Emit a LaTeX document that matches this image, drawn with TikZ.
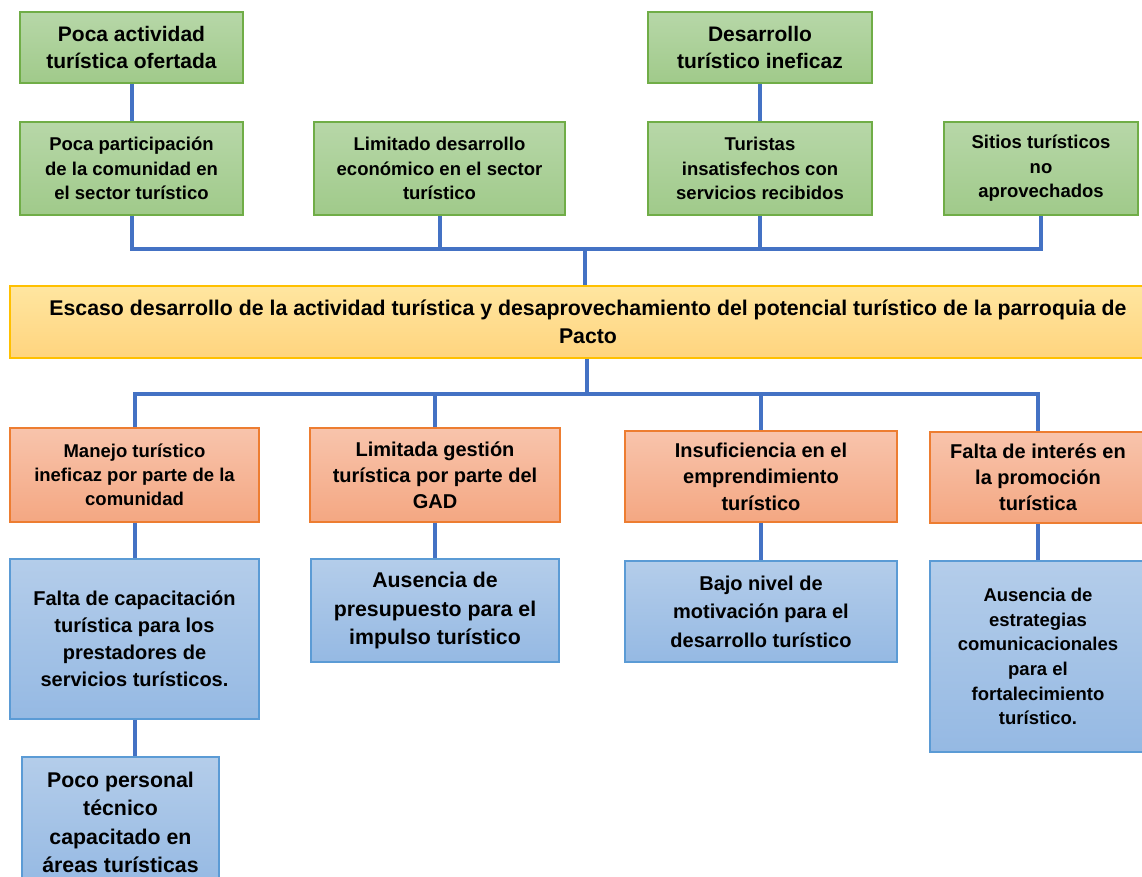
\documentclass[tikz,border=0pt]{standalone}
\usepackage{fontspec}
\setmainfont{Liberation Sans}
\usepackage{tikz}
\usetikzlibrary{positioning}
\usepackage{xcolor}
\definecolor{efborde}{RGB}{112,173,71}
\definecolor{eftop}{RGB}{183,215,168}
\definecolor{efbot}{RGB}{160,202,138}
\definecolor{prborde}{RGB}{255,192,0}
\definecolor{prtop}{RGB}{255,230,160}
\definecolor{prbot}{RGB}{255,212,126}
\definecolor{caborde}{RGB}{237,125,49}
\definecolor{catop}{RGB}{248,196,172}
\definecolor{cabot}{RGB}{244,167,130}
\definecolor{scborde}{RGB}{91,155,213}
\definecolor{sctop}{RGB}{180,205,234}
\definecolor{scbot}{RGB}{149,185,227}
\definecolor{linkblue}{RGB}{68,114,196}
\tikzstyle{link} = [line width=4pt, color=linkblue]
\tikzstyle{efecto} = [rectangle, draw=efborde, top color=eftop, bottom color=efbot, line width=1.3pt, align=center, inner sep=0pt]
\tikzstyle{problema} = [rectangle, draw=prborde, top color=prtop, bottom color=prbot, line width=1.3pt, align=center, inner sep=0pt]
\tikzstyle{causa} = [rectangle, draw=caborde, top color=catop, bottom color=cabot, line width=1.3pt, align=center, inner sep=0pt]
\tikzstyle{subcausa} = [rectangle, draw=scborde, top color=sctop, bottom color=scbot, line width=1.3pt, align=center, inner sep=0pt]

\begin{document}
\begin{tikzpicture}[x=1pt, y=-1pt]
\useasboundingbox (0,0) rectangle (1142,877);
\clip (0,0) rectangle (1142,877);

% Efectos
\node[efecto, minimum width=223pt, minimum height=71pt, font=\bfseries\fontsize{21}{27}\selectfont] (pact) at (131.5,47.5) {Poca actividad\\turística ofertada};
\node[efecto, minimum width=224pt, minimum height=71pt, font=\bfseries\fontsize{21}{27}\selectfont] (desin) at (760,47.5) {Desarrollo\\turístico ineficaz};
\node[efecto, minimum width=223pt, minimum height=93pt, font=\bfseries\fontsize{18.5}{24.5}\selectfont] (ppart) at (131.5,168.5) {Poca participación\\de la comunidad en\\el sector turístico};
\node[efecto, minimum width=251pt, minimum height=93pt, font=\bfseries\fontsize{18.5}{24.5}\selectfont] (limdes) at (439.5,168.5) {Limitado desarrollo\\económico en el sector\\turístico};
\node[efecto, minimum width=224pt, minimum height=93pt, font=\bfseries\fontsize{18.5}{24.5}\selectfont] (turis) at (760,168.5) {Turistas\\insatisfechos con\\servicios recibidos};
\node[efecto, minimum width=194pt, minimum height=93pt, font=\bfseries\fontsize{18.5}{24.5}\selectfont] (sitios) at (1041,168.5) {Sitios turísticos\\no\\aprovechados};

% Problema central
\node[problema, minimum width=1156pt, minimum height=72pt, font=\bfseries\fontsize{21.3}{28}\selectfont] (escaso) at (588,322) {Escaso desarrollo de la actividad turística y desaprovechamiento del potencial turístico de la parroquia de\\Pacto};

% Causas
\node[causa, minimum width=249pt, minimum height=94pt, font=\bfseries\fontsize{18.5}{24}\selectfont] (manejo) at (134.5,475) {Manejo turístico\\ineficaz por parte de la\\comunidad};
\node[causa, minimum width=250pt, minimum height=94pt, font=\bfseries\fontsize{20}{26}\selectfont] (gestion) at (435,475) {Limitada gestión\\turística por parte del\\GAD};
\node[causa, minimum width=272pt, minimum height=91pt, font=\bfseries\fontsize{20}{26.5}\selectfont] (insuf) at (761,476.5) {Insuficiencia en el\\emprendimiento\\turístico};
\node[causa, minimum width=216pt, minimum height=91pt, font=\bfseries\fontsize{20}{26}\selectfont] (interes) at (1038,477.5) {Falta de interés en\\la promoción\\turística};

% Subcausas
\node[subcausa, minimum width=249pt, minimum height=160pt, font=\bfseries\fontsize{20}{27}\selectfont] (capac) at (134.5,639) {Falta de capacitación\\turística para los\\prestadores de\\servicios turísticos.};
\node[subcausa, minimum width=248pt, minimum height=103pt, font=\bfseries\fontsize{21.3}{28.5}\selectfont] (presup) at (435,610.5) {Ausencia de\\presupuesto para el\\impulso turístico};
\node[subcausa, minimum width=272pt, minimum height=101pt, font=\bfseries\fontsize{20}{28.5}\selectfont] (motiv) at (761,611.5) {Bajo nivel de\\motivación para el\\desarrollo turístico};
\node[subcausa, minimum width=216pt, minimum height=191pt, font=\bfseries\fontsize{18.5}{24.6}\selectfont] (estrat) at (1038,656.5) {Ausencia de\\estrategias\\comunicacionales\\para el\\fortalecimiento\\turístico.};
\node[subcausa, minimum width=197pt, minimum height=131pt, font=\bfseries\fontsize{21.3}{28.5}\selectfont] (personal) at (120.5,822.5) {Poco personal\\técnico\\capacitado en\\áreas turísticas};

% Conectores
\coordinate (ebus) at (585,249);
\coordinate (cbus) at (587,394);
\draw[link] (pact) -- (ppart);
\draw[link] (desin) -- (turis);
\draw[link] (ppart.south) |- (ebus) -| (sitios.south);
\draw[link] (limdes.south) -- (limdes.south |- ebus);
\draw[link] (turis.south) -- (turis.south |- ebus);
\draw[link] (ebus) -- (ebus |- escaso.north);
\draw[link] (cbus |- escaso.south) -- (cbus);
\draw[link] (manejo.north) |- (cbus) -| (interes.north);
\draw[link] (gestion.north) -- (gestion.north |- cbus);
\draw[link] (insuf.north) -- (insuf.north |- cbus);
\draw[link] (manejo) -- (capac);
\draw[link] (gestion) -- (presup);
\draw[link] (insuf) -- (motiv);
\draw[link] (interes) -- (estrat);
\draw[link] (capac.south) -- (capac.south |- personal.north);
\end{tikzpicture}
\end{document}
